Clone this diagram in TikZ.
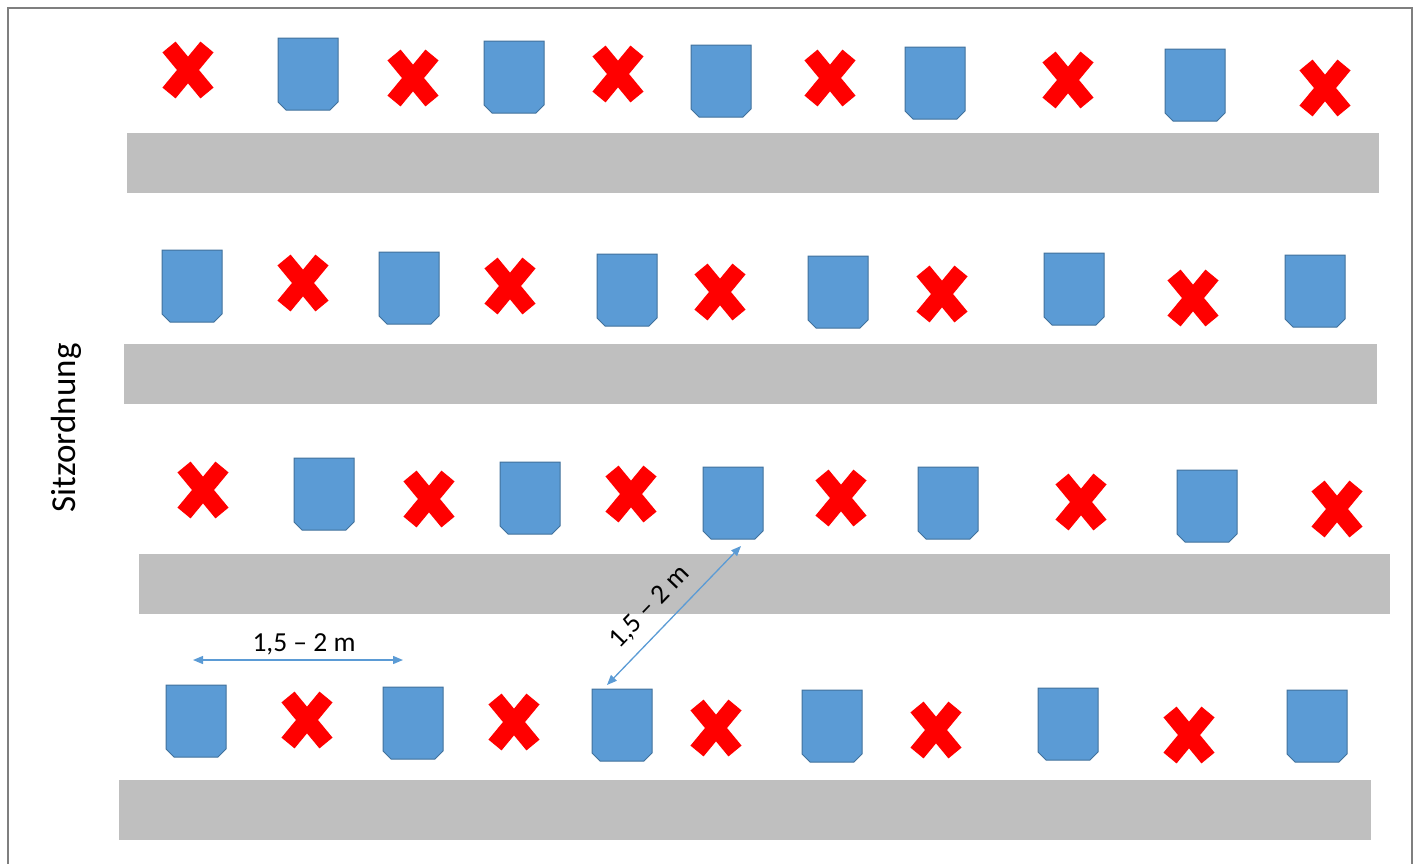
\documentclass[tikz,border=0pt]{standalone}
\usepackage{fontspec}
\setmainfont{Carlito}
\usetikzlibrary{arrows.meta}
\definecolor{chairblue}{HTML}{5B9BD5}
\definecolor{chairedge}{HTML}{41719C}
\definecolor{deskgray}{HTML}{BFBFBF}
\definecolor{framegray}{HTML}{7F7F7F}

\begin{document}
\begin{tikzpicture}[x=1pt, y=-1pt,
    chair/.pic={\draw[fill=chairblue, draw=chairedge, line width=1pt] (-30,-36) -- (30,-36) -- (30,28) -- (22,36) -- (-22,36) -- (-30,28) -- cycle;},
    redx/.pic={\draw[red, line width=17pt] (-19,-23) -- (19,23) (-19,23) -- (19,-23);},
    desk/.style={fill=deskgray},
    dim/.style={chairblue, line width=1.3pt, {Triangle[width=8pt,length=10pt]}-{Triangle[width=8pt,length=10pt]}},
    lbl/.style={font=\fontsize{27.5}{32}\selectfont}
]

                    \useasboundingbox (0,0) rectangle (1418,863);
                    \clip (0,0) rectangle (1418,863);
                    \draw[framegray, line width=2pt] (8,880) -- (8,8) -- (1412,8) -- (1412,880);

                    \node[rotate=90, font=\fontsize{35}{42}\selectfont] (title) at (66,428) {Sitzordnung};

                    \fill[desk] (127,133) rectangle (1379,193);
                    \fill[desk] (124,344) rectangle (1377,404);
                    \fill[desk] (139,554) rectangle (1390,614);
                    \fill[desk] (119,780) rectangle (1371,840);

                    \pic at (188,70) {redx};
                    \pic at (308,74) {chair};
                    \pic at (413,78) {redx};
                    \pic at (514,77) {chair};
                    \pic at (618,74) {redx};
                    \pic at (721,81) {chair};
                    \pic at (830,78) {redx};
                    \pic at (935,83) {chair};
                    \pic at (1068,80) {redx};
                    \pic at (1195,85) {chair};
                    \pic at (1325,88) {redx};

                    \pic at (192,286) {chair};
                    \pic at (303,283) {redx};
                    \pic at (409,288) {chair};
                    \pic at (510,286) {redx};
                    \pic at (627,290) {chair};
                    \pic at (720,292) {redx};
                    \pic at (838,292) {chair};
                    \pic at (942,294) {redx};
                    \pic at (1074,289) {chair};
                    \pic at (1193,298) {redx};
                    \pic at (1315,291) {chair};

                    \pic at (203,490) {redx};
                    \pic at (324,494) {chair};
                    \pic at (429,499) {redx};
                    \pic at (530,498) {chair};
                    \pic at (631,494) {redx};
                    \pic at (733,503) {chair};
                    \pic at (841,498) {redx};
                    \pic at (948,503) {chair};
                    \pic at (1081,502) {redx};
                    \pic at (1207,506) {chair};
                    \pic at (1337,509) {redx};

                    \pic at (196,721) {chair};
                    \pic at (307,720) {redx};
                    \pic at (413,723) {chair};
                    \pic at (514,722) {redx};
                    \pic at (622,725) {chair};
                    \pic at (716,728) {redx};
                    \pic at (832,726) {chair};
                    \pic at (936,730) {redx};
                    \pic at (1068,724) {chair};
                    \pic at (1189,735) {redx};
                    \pic at (1317,726) {chair};

                    \coordinate (h1) at (193,660);
                    \coordinate (h2) at (403,660);
                    \draw[dim] (h1) -- (h2);
                    \node[lbl] (hlabel) at (304,644) {1,5 – 2 m};

                    \coordinate (d1) at (607,685);
                    \coordinate (d2) at (741,546);
                    \draw[dim] (d1) -- (d2);
                    \node[lbl, rotate=46] (dlabel) at (650,607) {1,5 – 2 m};

\end{tikzpicture}
\end{document}
